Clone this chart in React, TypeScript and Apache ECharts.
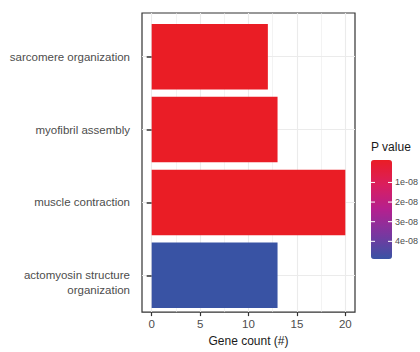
import React, { useEffect, useRef } from "react";
import * as echarts from "echarts";

const categories = [
  "sarcomere organization",
  "myofibril assembly",
  "muscle contraction",
  "actomyosin structure\norganization",
];
const geneCounts = [12, 13, 20, 13];
const pValues = [1.5e-10, 3e-10, 1e-10, 4.9e-8];
const xTicks = [0, 5, 10, 15, 20];
const xMinorTicks = [2.5, 7.5, 12.5, 17.5];
const legendTicks = [1e-8, 2e-8, 3e-8, 4e-8];
const legendTickLabels = ["1e-08", "2e-08", "3e-08", "4e-08"];

const FONT = "'Liberation Sans', Arial, Helvetica, sans-serif";
const GRID_COLOR = "#EBEBEB";

export default function App() {
  const ref = useRef<HTMLDivElement>(null);

  useEffect(() => {
    if (!ref.current) return;
    const chart = echarts.init(ref.current, undefined, { renderer: "svg" });

    const pMin = Math.min(...pValues);
    const pMax = Math.max(...pValues);

    // colour bar geometry
    const barLeft = 371;
    const barTop = 160;
    const barW = 21;
    const barH = 99;
    const yOf = (v: number) => barTop + 3 + ((v - pMin) / (pMax - pMin)) * (barH - 3);

    const legendGraphics: any[] = [
      {
        type: "text",
        left: barLeft,
        top: 141,
        style: { text: "P value", fill: "#1a1a1a", font: `12px ${FONT}` },
      },
    ];
    legendTicks.forEach((v, i) => {
      const y = yOf(v);
      legendGraphics.push(
        { type: "line", shape: { x1: barLeft, y1: y, x2: barLeft + 4, y2: y }, style: { stroke: "#fff", lineWidth: 1 }, z: 100 },
        { type: "line", shape: { x1: barLeft + barW - 4, y1: y, x2: barLeft + barW, y2: y }, style: { stroke: "#fff", lineWidth: 1 }, z: 100 },
        {
          type: "text",
          x: barLeft + barW + 3,
          y,
          style: { text: legendTickLabels[i], fill: "#4D4D4D", font: `9px ${FONT}`, verticalAlign: "middle" },
        }
      );
    });

    const data = categories.map((c, i) => [geneCounts[i], c, pValues[i]]);

    chart.setOption({
      animation: false,
      textStyle: { fontFamily: FONT },
      grid: [
        { left: 142, right: 65, top: 20.3, bottom: 40.3 },
        { left: 142, right: 65, top: 13, bottom: 33, show: true, borderColor: "#333", borderWidth: 1.2, backgroundColor: "transparent" },
      ],
      xAxis: [
        {
          gridIndex: 1,
          type: "value",
          min: -1,
          max: 21,
          axisLine: { show: false },
          axisTick: { show: true, length: 4, customValues: xTicks, lineStyle: { color: "#333", width: 1.2 } },
          axisLabel: { customValues: xTicks, color: "#4D4D4D", fontSize: 11.5, margin: 6, fontFamily: FONT },
          splitLine: { show: true, lineStyle: { color: GRID_COLOR, width: 1.1 } },
          name: "Gene count (#)",
          nameLocation: "middle",
          nameGap: 18,
          nameTextStyle: { color: "#1a1a1a", fontSize: 12, fontFamily: FONT },
        },
        {
          gridIndex: 1,
          type: "value",
          min: -1,
          max: 21,
          position: "bottom",
          axisLine: { show: false },
          axisTick: { show: false, customValues: xMinorTicks },
          axisLabel: { show: false },
          splitLine: { show: true, lineStyle: { color: GRID_COLOR, width: 0.6 } },
        },
        {
          gridIndex: 0,
          type: "value",
          min: -1,
          max: 21,
          show: false,
        },
      ],
      yAxis: [
        {
          gridIndex: 0,
          type: "category",
          data: categories,
          inverse: true,
          axisLine: { show: false },
          axisTick: { show: true, alignWithLabel: true, length: 5, lineStyle: { color: "#333", width: 1.5 } },
          axisLabel: {
            color: "#4D4D4D",
            fontSize: 11.5,
            margin: 12,
            lineHeight: 15,
            fontFamily: FONT,
            formatter: (v: string) => (v.indexOf("\n") >= 0 ? "\n" + v : v),
          },
          splitLine: { show: true, alignWithLabel: true, lineStyle: { color: GRID_COLOR, width: 1.1 } },
        },
        { gridIndex: 1, type: "value", show: false },
      ],
      visualMap: {
        type: "continuous",
        seriesIndex: 0,
        dimension: 2,
        min: pMin,
        max: pMax,
        inverse: true,
        calculable: false,
        hoverLink: false,
        show: true,
        left: barLeft,
        top: barTop,
        itemWidth: barW,
        itemHeight: barH,
        padding: 0,
        text: null,
        showLabel: false,
        inRange: { color: ["#EA1D25", "#DA1E5E", "#B4208F", "#7A37A0", "#3953A4"] },
      },
      graphic: legendGraphics,
      series: [
        {
          type: "bar",
          xAxisIndex: 2,
          yAxisIndex: 0,
          barWidth: "90%",
          encode: { x: 0, y: 1 },
          data,
          z: 3,
        },
      ],
    });

    return () => chart.dispose();
  }, []);

  return <div ref={ref} style={{ position: "absolute", left: 0, top: 0, width: 420, height: 352 }} />;
}
